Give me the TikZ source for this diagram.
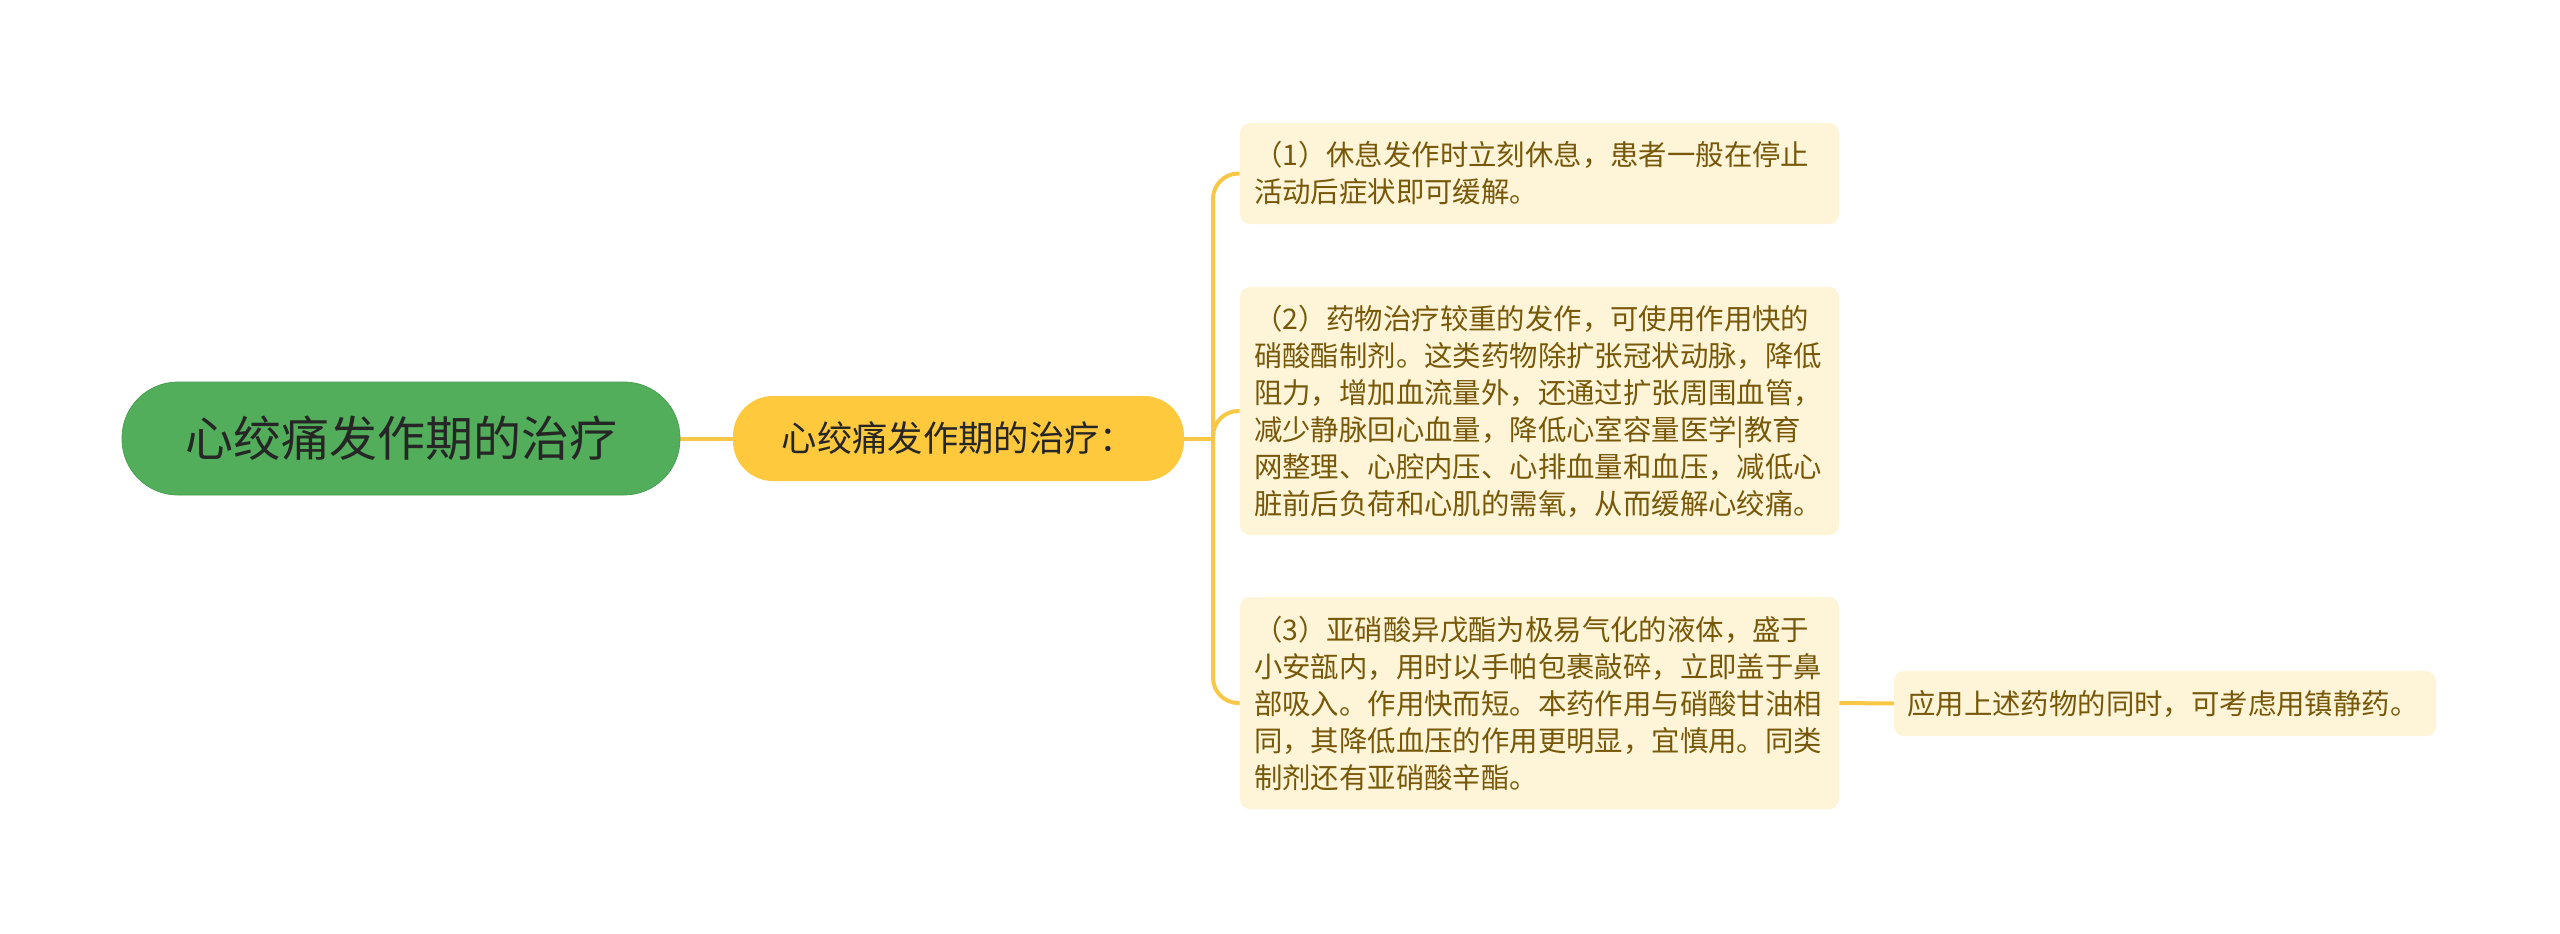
\documentclass[tikz,border=0pt]{standalone}
\usepackage{fontspec}
\setmainfont{Noto Sans CJK SC}
\usetikzlibrary{backgrounds}
\definecolor{rootgreen}{HTML}{52AE5A}
\definecolor{rootedge}{HTML}{4A9F52}
\definecolor{subyellow}{HTML}{FEC93C}
\definecolor{boxfill}{HTML}{FEF4D8}
\definecolor{boxtext}{HTML}{775808}
\definecolor{connc}{HTML}{F8C745}
\definecolor{darktext}{HTML}{262626}
\tikzset{
  conn/.style={draw=connc, line width=3pt},
  rootnode/.style={fill=rootgreen, draw=rootedge, line width=0.6pt, rounded corners=42pt,
    minimum width=418.5pt, minimum height=84.75pt, inner sep=0pt,
    text=darktext, font=\fontsize{36}{40}\selectfont},
  subnode/.style={fill=subyellow, rounded corners=30pt,
    minimum width=338.25pt, minimum height=63.75pt, inner sep=0pt,
    text=darktext, font=\fontsize{26.5}{30}\selectfont},
  leafbox/.style={fill=boxfill, rounded corners=7.5pt, inner xsep=10.5pt, inner ysep=0pt,
    minimum width=449.25pt, text width=428.25pt, align=left,
    text=boxtext, font=\fontsize{21.3}{27.75}\selectfont},
}
\begin{document}
\begin{tikzpicture}[x=0.75pt, y=-0.75pt]
\useasboundingbox (0,0) rectangle (2560,933);

\node[rootnode] (root) at (401,438.5) {心绞痛发作期的治疗};
\node[subnode] (sub) at (958.5,438.5) {心绞痛发作期的治疗：};

\node[leafbox, minimum height=75.75pt] (b1) at (1539.5,173.5)
  {（1）休息发作时立刻休息，患者一般在停止\\活动后症状即可缓解。};
\node[leafbox, minimum height=186pt] (b2) at (1539.5,411)
  {（2）药物治疗较重的发作，可使用作用快的\\硝酸酯制剂。这类药物除扩张冠状动脉，降低\\阻力，增加血流量外，还通过扩张周围血管，\\减少静脉回心血量，降低心室容量医学|教育\\网整理、心腔内压、心排血量和血压，减低心\\脏前后负荷和心肌的需氧，从而缓解心绞痛。};
\node[leafbox, minimum height=159pt] (b3) at (1539.5,703)
  {（3）亚硝酸异戊酯为极易气化的液体，盛于\\小安瓿内，用时以手帕包裹敲碎，立即盖于鼻\\部吸入。作用快而短。本药作用与硝酸甘油相\\同，其降低血压的作用更明显，宜慎用。同类\\制剂还有亚硝酸辛酯。};
\node[leafbox, minimum width=406.5pt, text width=386.5pt, inner xsep=10pt, minimum height=48.75pt] (b4) at (2165,703.5)
  {应用上述药物的同时，可考虑用镇静药。};

\coordinate (j) at (1213,438.5);

\begin{scope}[on background layer]
\fill[white] (0,0) rectangle (2560,933);
\draw[conn] (root.east) -- (sub.west);
\draw[conn] (sub.east) -- (j);
\draw[conn, rounded corners=19pt] (j) |- (b1.west);
\draw[conn, rounded corners=19pt] (j) |- (b2.west);
\draw[conn, rounded corners=19pt] (j) |- (b3.west);
\draw[conn] (b3.east) -- (b4.west);
\end{scope}
\end{tikzpicture}
\end{document}
